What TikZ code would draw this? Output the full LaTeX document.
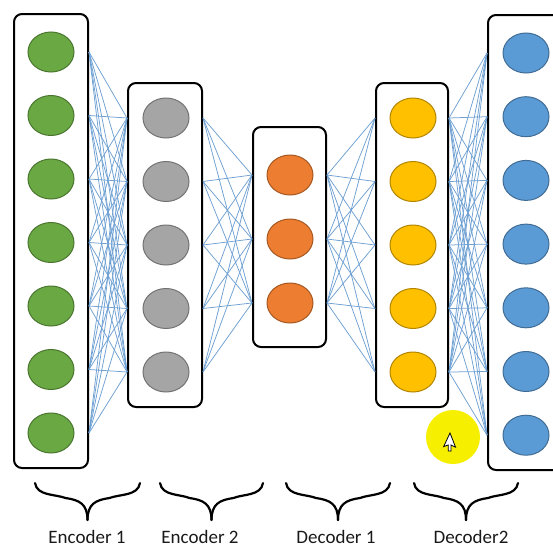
\documentclass[tikz,border=0pt]{standalone}
\usepackage{fontspec}
\setmainfont{Carlito}
\usetikzlibrary{shapes.geometric}

\definecolor{wire}{RGB}{110,160,210}
\definecolor{ingreen}{RGB}{106,168,67}
\definecolor{engray}{RGB}{165,165,165}
\definecolor{coorange}{RGB}{237,125,49}
\definecolor{degold}{RGB}{255,192,0}
\definecolor{outblue}{RGB}{91,155,213}
\definecolor{spot}{RGB}{246,240,0}

\tikzset{
    layer/.style={draw,line width=2pt,rounded corners=8pt,fill=white,
        minimum width=74pt},
    unit/.style={ellipse,draw=#1!70!black,fill=#1,line width=1pt,
        minimum width=46pt,minimum height=40pt,inner sep=0pt},
    wires/.style={wire,line width=0.75pt},
    curly/.style={line width=2.2pt,line cap=round},
    lbl/.style={font=\fontsize{19}{21}\selectfont,text=black!90,inner sep=0pt}
}

\begin{document}
\begin{tikzpicture}[x=1pt,y=-1pt]
    \useasboundingbox (0,0) rectangle (553,549);
    \clip (0,0) rectangle (553,549);
    %% Layers
    \node[layer,minimum height=454pt] (inbox) at (51,241) {};
    \node[layer,minimum height=324pt] (encbox) at (165,245) {};
    \node[layer,minimum height=220pt,minimum width=73pt] (codebox) at (289.5,237) {};
    \node[layer,minimum height=324pt,minimum width=72pt] (decbox) at (412,245) {};
    \node[layer,minimum height=455pt] (outbox) at (525,242.5) {};
    %% Units
    \foreach \i in {1,...,7}
        \node[unit=ingreen] (in\i) at (51,{52+63.5*(\i-1)}) {};
    \foreach \i in {1,...,5}
        \node[unit=engray] (en\i) at (166,{118+63.5*(\i-1)}) {};
    \foreach \i in {1,...,3}
        \node[unit=coorange] (co\i) at (290,{175+64*(\i-1)}) {};
    \foreach \i in {1,...,5}
        \node[unit=degold] (de\i) at (413,{118+63.5*(\i-1)}) {};
    \foreach \i in {1,...,7}
        \node[unit=outblue] (out\i) at (526,{53+63.7*(\i-1)}) {};
    %% Weights
    \foreach \i in {1,...,7}
        \foreach \j in {1,...,5}
            \draw[wires] (in\i -| inbox.east) -- (en\j -| encbox.west);
    \foreach \i in {1,...,5}
        \foreach \j in {1,...,3}
            \draw[wires] (en\i -| encbox.east) -- (co\j -| codebox.west);
    \foreach \i in {1,...,3}
        \foreach \j in {1,...,5}
            \draw[wires] (co\i -| codebox.east) -- (de\j -| decbox.west);
    \foreach \i in {1,...,5}
        \foreach \j in {1,...,7}
            \draw[wires] (de\i -| decbox.east) -- (out\j -| outbox.west);
    %% Pointer spot
    \fill[spot] (453,437) circle (27);
    \draw[fill=white,line width=0.8pt,rotate around={-25:(450,433)}]
        (450,433) -- (450,448) -- (453.5,444.5) -- (456,450) -- (458.5,449)
        -- (456,443.5) -- (461,443.5) -- cycle;
    %% Braces
    \foreach \l/\r in {35/140,160/263,286/390,414/518} {
        \pgfmathsetmacro{\m}{(\l+\r)/2}
        \draw[curly] (\l,483) .. controls (\l+2,496) and (\l+20,494) .. (\m-22,498)
            .. controls (\m-8,500) and (\m,504) .. (\m,520);
        \draw[curly] (\r,483) .. controls (\r-2,496) and (\r-20,494) .. (\m+22,498)
            .. controls (\m+8,500) and (\m,504) .. (\m,520);
    }
    %% Labels
    \node[lbl,anchor=base] (enc1) at (87,543) {Encoder 1};
    \node[lbl,anchor=base] (enc2) at (200,543) {Encoder 2};
    \node[lbl,anchor=base] (dec1) at (336,543) {Decoder 1};
    \node[lbl,anchor=base] (dec2) at (471,543) {Decoder2};
\end{tikzpicture}
\end{document}
